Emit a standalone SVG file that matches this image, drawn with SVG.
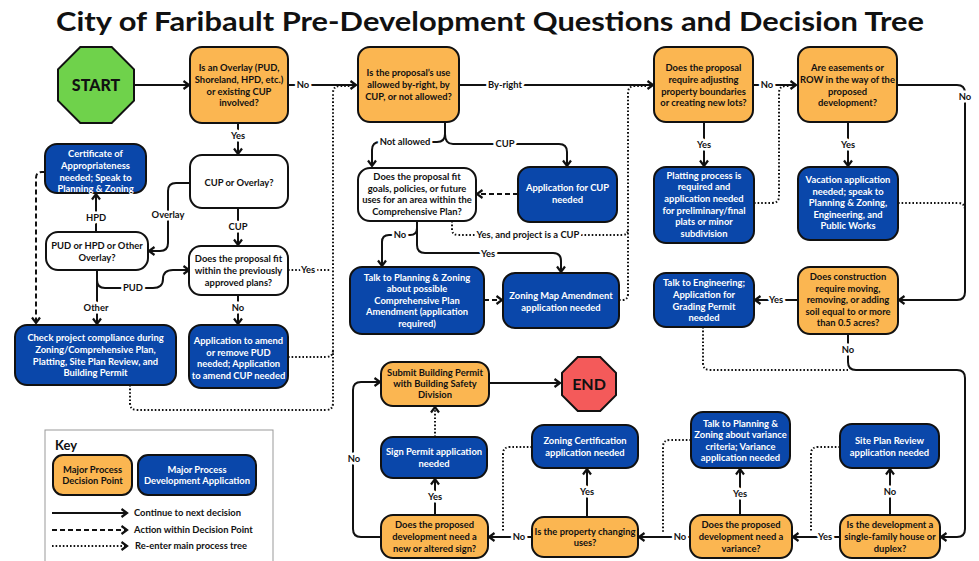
<svg xmlns="http://www.w3.org/2000/svg" width="979" height="561" viewBox="0 0 979 561">
<defs>
<marker id="a" markerWidth="10" markerHeight="10" refX="7" refY="5" orient="auto" markerUnits="userSpaceOnUse">
<path d="M1.5,1 L7,5 L1.5,9" fill="none" stroke="#111" stroke-width="2.2"/>
</marker>
<style>
text{font-family:Lato,"Liberation Sans",sans-serif;font-weight:700;font-size:9.4px;text-anchor:middle}
.o{fill:#FBB651;stroke:#111;stroke-width:2}
.b{fill:#0A47AA;stroke:#111;stroke-width:2}
.w{fill:#fff;stroke:#111;stroke-width:2}
.bt{fill:#fff}
.dk{fill:#111}
.c{fill:none;stroke:#111;stroke-width:2}
.d{stroke-dasharray:5 3}
.t{stroke-dasharray:1.6 2}
.l{fill:#111;paint-order:stroke;stroke:#fff;stroke-width:5px;stroke-linejoin:round}
</style>
</defs>
<rect width="979" height="561" fill="#fff"/>
<text x="490" y="31" style="font-size:27px" textLength="868" lengthAdjust="spacingAndGlyphs" class="dk">City of Faribault Pre-Development Questions and Decision Tree</text>

<g id="connectors">
<path class="c" d="M134,85 H189" marker-end="url(#a)"/>
<path class="c" d="M288,85 H356" marker-end="url(#a)"/>
<path class="c" d="M238,123 V154" marker-end="url(#a)"/>
<path class="c" d="M190,183 H176 Q168,183 168,191 V243 Q168,251 160,251 H149" marker-end="url(#a)"/>
<path class="c" d="M238,208 V245" marker-end="url(#a)"/>
<path class="c" d="M96,231 V194" marker-end="url(#a)"/>
<path class="c" d="M97,270 V280 Q97,288 105,288 H153 Q163,288 163,279 Q163,270 173,270 H189" marker-end="url(#a)"/>
<path class="c" d="M97,280 V324" marker-end="url(#a)"/>
<path class="c d" d="M45,172 H42 Q36,172 36,178 V323" marker-end="url(#a)"/>
<path class="c" d="M238,295 V324" marker-end="url(#a)"/>
<path class="c t" d="M288,270 H331"/>
<path class="c t" d="M288,357 H326 Q333,357 333,350"/>
<path class="c t" d="M130,385 V403 Q130,410 137,410 H326 Q333,410 333,403 V93 Q333,86 340,86 H350"/>
<path class="c" d="M459,85 H653" marker-end="url(#a)"/>
<path class="c" d="M445,122 V134 Q445,142 437,142 H380 Q372,142 372,150 V166" marker-end="url(#a)"/>
<path class="c" d="M445,134 Q445,144 453,144 H559 Q567,144 567,152 V166" marker-end="url(#a)"/>
<path class="c d" d="M518,194 H477" marker-end="url(#a)"/>
<path class="c" d="M417,221 V228 Q417,235 410,235 H389 Q382,235 382,242 V266" marker-end="url(#a)"/>
<path class="c" d="M417,228 V245 Q417,253 425,253 H553 Q561,253 561,261 V272" marker-end="url(#a)"/>
<path class="c t" d="M452,221 V229 Q452,235 458,235 H622 Q628,235 628,229"/>
<path class="c d" d="M484,300 H502" marker-end="url(#a)"/>
<path class="c t" d="M619,300 H622 Q628,300 628,294 V93 Q628,86 635,86 H646"/>
<path class="c" d="M753,85 H796" marker-end="url(#a)"/>
<path class="c" d="M704,122 V166" marker-end="url(#a)"/>
<path class="c" d="M848,122 V166" marker-end="url(#a)"/>
<path class="c t" d="M754,203 H772 Q779,203 779,196 V93 Q779,86 786,86 H790"/>
<path class="c" d="M897,85 H957 Q965,85 965,93 V292 Q965,300 957,300 H899" marker-end="url(#a)"/>
<path class="c t" d="M898,203 H958 Q965,203 965,210"/>
<path class="c" d="M798,300 H755" marker-end="url(#a)"/>
<path class="c" d="M848,334 V362 Q848,370 856,370 H957 Q965,370 965,378 V529 Q965,537 957,537 H941" marker-end="url(#a)"/>
<path class="c t" d="M703,327 V363 Q703,370 710,370 H848"/>
<path class="c" d="M840,537 H793" marker-end="url(#a)"/>
<path class="c" d="M890,515 V469" marker-end="url(#a)"/>
<path class="c t" d="M840,447 H818 Q811,447 811,454 V532"/>
<path class="c" d="M740,515 V469" marker-end="url(#a)"/>
<path class="c" d="M690,537 H639" marker-end="url(#a)"/>
<path class="c t" d="M691,440 H670 Q663,440 663,447 V532"/>
<path class="c" d="M587,517 V469" marker-end="url(#a)"/>
<path class="c" d="M532,537 H489" marker-end="url(#a)"/>
<path class="c t" d="M532,447 H510 Q503,447 503,454 V532"/>
<path class="c" d="M435,515 V479" marker-end="url(#a)"/>
<path class="c t" d="M435,437 V407" marker-end="url(#a)"/>
<path class="c" d="M381,537 H361 Q353,537 353,529 V390 Q353,382 361,382 H380" marker-end="url(#a)"/>
<path class="c" d="M489,383 H560" marker-end="url(#a)"/>
</g>

<g id="labels">
<text class="l" x="303" y="88">No</text>
<text class="l" x="238" y="139">Yes</text>
<text class="l" x="168" y="218">Overlay</text>
<text class="l" x="238" y="230">CUP</text>
<text class="l" x="96" y="221">HPD</text>
<text class="l" x="133" y="291">PUD</text>
<text class="l" x="96" y="311">Other</text>
<text class="l" x="308" y="273">Yes</text>
<text class="l" x="238" y="311">No</text>
<text class="l" x="505" y="88">By-right</text>
<text class="l" x="405" y="145">Not allowed</text>
<text class="l" x="505" y="147">CUP</text>
<text class="l" x="400" y="238">No</text>
<text class="l" x="488" y="257">Yes</text>
<text class="l" x="528" y="238">Yes, and project is a CUP</text>
<text class="l" x="767" y="88">No</text>
<text class="l" x="704" y="148">Yes</text>
<text class="l" x="848" y="148">Yes</text>
<text class="l" x="965" y="100">No</text>
<text class="l" x="776" y="303">Yes</text>
<text class="l" x="848" y="353">No</text>
<text class="l" x="890" y="495">No</text>
<text class="l" x="825" y="540">Yes</text>
<text class="l" x="740" y="497">Yes</text>
<text class="l" x="680" y="540">No</text>
<text class="l" x="587" y="495">Yes</text>
<text class="l" x="519" y="540">No</text>
<text class="l" x="435" y="500">Yes</text>
<text class="l" x="354" y="462">No</text>
</g>

<g id="start">
<polygon points="80.3,47 111.7,47 134,69.3 134,100.7 111.7,123 80.3,123 58,100.7 58,69.3" fill="#6FD24B" stroke="#111" stroke-width="2"/>
<text x="96" y="91" class="dk" style="font-size:16px;font-weight:900">START</text>
</g>
<g id="overlay">
<rect class="o" x="190" y="47" width="98" height="76" rx="12"/>
<text class="dk" x="239" y="71">Is an Overlay (PUD,</text>
<text class="dk" x="239" y="83">Shoreland, HPD, etc.)</text>
<text class="dk" x="239" y="95">or existing CUP</text>
<text class="dk" x="239" y="106">involved?</text>
</g>
<g id="cup-or-overlay">
<rect class="w" x="190" y="155" width="98" height="53" rx="12"/>
<text class="dk" x="239" y="186">CUP or Overlay?</text>
</g>
<g id="certificate">
<rect class="b" x="45" y="144" width="101" height="49" rx="12"/>
<text class="bt" x="95.5" y="157">Certificate of</text>
<text class="bt" x="95.5" y="169">Appropriateness</text>
<text class="bt" x="95.5" y="181">needed; Speak to</text>
<text class="bt" x="95.5" y="192">Planning &amp; Zoning</text>
</g>
<g id="pud-hpd">
<rect class="w" x="46" y="232" width="102" height="38" rx="12"/>
<text class="dk" x="97" y="249">PUD or HPD or Other</text>
<text class="dk" x="97" y="261">Overlay?</text>
</g>
<g id="fit-approved">
<rect class="w" x="189" y="246" width="99" height="49" rx="12"/>
<text class="dk" x="238.5" y="262">Does the proposal fit</text>
<text class="dk" x="238.5" y="274">within the previously</text>
<text class="dk" x="238.5" y="286">approved plans?</text>
</g>
<g id="check-compliance">
<rect class="b" x="15" y="325" width="161" height="60" rx="12"/>
<text class="bt" x="95.5" y="341">Check project compliance during</text>
<text class="bt" x="95.5" y="353">Zoning/Comprehensive Plan,</text>
<text class="bt" x="95.5" y="365">Platting, Site Plan Review, and</text>
<text class="bt" x="95.5" y="376">Building Permit</text>
</g>
<g id="amend-pud">
<rect class="b" x="189" y="325" width="99" height="63" rx="12"/>
<text class="bt" x="238.5" y="344">Application to amend</text>
<text class="bt" x="238.5" y="356">or remove PUD</text>
<text class="bt" x="238.5" y="367">needed; Application</text>
<text class="bt" x="238.5" y="379">to amend CUP needed</text>
</g>
<g id="use-allowed">
<rect class="o" x="358" y="47" width="101" height="75" rx="12"/>
<text class="dk" x="408.5" y="76">Is the proposal’s use</text>
<text class="dk" x="408.5" y="88">allowed by-right, by</text>
<text class="dk" x="408.5" y="100">CUP, or not allowed?</text>
</g>
<g id="fit-comp-plan">
<rect class="w" x="358" y="168" width="118" height="53" rx="12"/>
<text class="dk" x="417" y="180">Does the proposal fit</text>
<text class="dk" x="417" y="192">goals, policies, or future</text>
<text class="dk" x="417" y="203">uses for an area within the</text>
<text class="dk" x="417" y="215">Comprehensive Plan?</text>
</g>
<g id="cup-application">
<rect class="b" x="518" y="167" width="99" height="55" rx="12"/>
<text class="bt" x="567.5" y="191">Application for CUP</text>
<text class="bt" x="567.5" y="203">needed</text>
</g>
<g id="comp-plan-amendment">
<rect class="b" x="350" y="267" width="134" height="67" rx="12"/>
<text class="bt" x="417" y="281">Talk to Planning &amp; Zoning</text>
<text class="bt" x="417" y="292">about possible</text>
<text class="bt" x="417" y="304">Comprehensive Plan</text>
<text class="bt" x="417" y="315">Amendment (application</text>
<text class="bt" x="417" y="327">required)</text>
</g>
<g id="zoning-map">
<rect class="b" x="503" y="273" width="116" height="55" rx="12"/>
<text class="bt" x="561" y="299">Zoning Map Amendment</text>
<text class="bt" x="561" y="311">application needed</text>
</g>
<g id="adjust-boundaries">
<rect class="o" x="654" y="47" width="99" height="75" rx="12"/>
<text class="dk" x="703.5" y="71">Does the proposal</text>
<text class="dk" x="703.5" y="83">require adjusting</text>
<text class="dk" x="703.5" y="95">property boundaries</text>
<text class="dk" x="703.5" y="106">or creating new lots?</text>
</g>
<g id="easements">
<rect class="o" x="798" y="47" width="99" height="75" rx="12"/>
<text class="dk" x="847.5" y="71">Are easements or</text>
<text class="dk" x="847.5" y="83">ROW in the way of the</text>
<text class="dk" x="847.5" y="95">proposed</text>
<text class="dk" x="847.5" y="106">development?</text>
</g>
<g id="platting">
<rect class="b" x="654" y="167" width="100" height="76" rx="12"/>
<text class="bt" x="704" y="179">Platting process is</text>
<text class="bt" x="704" y="190">required and</text>
<text class="bt" x="704" y="202">application needed</text>
<text class="bt" x="704" y="214">for preliminary/final</text>
<text class="bt" x="704" y="225">plats or minor</text>
<text class="bt" x="704" y="237">subdivision</text>
</g>
<g id="vacation">
<rect class="b" x="798" y="167" width="100" height="73" rx="12"/>
<text class="bt" x="848" y="183">Vacation application</text>
<text class="bt" x="848" y="195">needed; speak to</text>
<text class="bt" x="848" y="206">Planning &amp; Zoning,</text>
<text class="bt" x="848" y="218">Engineering, and</text>
<text class="bt" x="848" y="229">Public Works</text>
</g>
<g id="soil">
<rect class="o" x="798" y="267" width="100" height="67" rx="12"/>
<text class="dk" x="848" y="280">Does construction</text>
<text class="dk" x="848" y="292">require moving,</text>
<text class="dk" x="848" y="303">removing, or adding</text>
<text class="dk" x="848" y="315">soil equal to or more</text>
<text class="dk" x="848" y="326">than 0.5 acres?</text>
</g>
<g id="grading">
<rect class="b" x="654" y="273" width="100" height="54" rx="12"/>
<text class="bt" x="704" y="286">Talk to Engineering;</text>
<text class="bt" x="704" y="298">Application for</text>
<text class="bt" x="704" y="310">Grading Permit</text>
<text class="bt" x="704" y="321">needed</text>
</g>
<g id="site-plan">
<rect class="b" x="840" y="424" width="99" height="44" rx="12"/>
<text class="bt" x="889.5" y="444">Site Plan Review</text>
<text class="bt" x="889.5" y="456">application needed</text>
</g>
<g id="single-family">
<rect class="o" x="840" y="515" width="100" height="43" rx="12"/>
<text class="dk" x="890" y="528">Is the development a</text>
<text class="dk" x="890" y="540">single-family house or</text>
<text class="dk" x="890" y="552">duplex?</text>
</g>
<g id="variance-talk">
<rect class="b" x="691" y="412" width="99" height="56" rx="12"/>
<text class="bt" x="740.5" y="427">Talk to Planning &amp;</text>
<text class="bt" x="740.5" y="438">Zoning about variance</text>
<text class="bt" x="740.5" y="450">criteria; Variance</text>
<text class="bt" x="740.5" y="461">application needed</text>
</g>
<g id="variance">
<rect class="o" x="690" y="515" width="102" height="43" rx="12"/>
<text class="dk" x="741" y="528">Does the proposed</text>
<text class="dk" x="741" y="540">development need a</text>
<text class="dk" x="741" y="552">variance?</text>
</g>
<g id="zoning-cert">
<rect class="b" x="532" y="425" width="106" height="43" rx="12"/>
<text class="bt" x="585" y="444">Zoning Certification</text>
<text class="bt" x="585" y="456">application needed</text>
</g>
<g id="changing-uses">
<rect class="o" x="532" y="517" width="106" height="40" rx="12"/>
<text class="dk" x="585" y="535">Is the property changing</text>
<text class="dk" x="585" y="546">uses?</text>
</g>
<g id="sign">
<rect class="o" x="381" y="515" width="107" height="43" rx="12"/>
<text class="dk" x="434.5" y="528">Does the proposed</text>
<text class="dk" x="434.5" y="540">development need a</text>
<text class="dk" x="434.5" y="552">new or altered sign?</text>
</g>
<g id="sign-permit">
<rect class="b" x="381" y="437" width="106" height="41" rx="12"/>
<text class="bt" x="434" y="455">Sign Permit application</text>
<text class="bt" x="434" y="467">needed</text>
</g>
<g id="submit">
<rect class="o" x="381" y="362" width="108" height="44" rx="12"/>
<text class="dk" x="435" y="376">Submit Building Permit</text>
<text class="dk" x="435" y="387">with Building Safety</text>
<text class="dk" x="435" y="398">Division</text>
</g>
<g id="end">
<polygon points="577.8,357 600.2,357 616,372.8 616,395.2 600.2,411 577.8,411 562,395.2 562,372.8" fill="#F45A5A" stroke="#111" stroke-width="2"/>
<text x="589" y="390" class="dk" style="font-size:16px;font-weight:700">END</text>
</g>

<g id="key">
<rect x="45" y="430" width="228" height="140" fill="#fff" stroke="#999" stroke-width="1"/>
<text x="55" y="450" class="dk" style="font-size:13px;text-anchor:start">Key</text>
<rect class="o" x="53" y="455" width="79" height="40" rx="10"/>
<text class="dk" x="92.5" y="473">Major Process</text>
<text class="dk" x="92.5" y="484">Decision Point</text>
<rect class="b" x="138" y="455" width="118" height="40" rx="10"/>
<text class="bt" x="197" y="473">Major Process</text>
<text class="bt" x="197" y="484">Development Application</text>
<path class="c" d="M52,513 H127" marker-end="url(#a)"/>
<path class="c d" d="M52,530 H127" marker-end="url(#a)"/>
<path class="c t" d="M52,546 H127" marker-end="url(#a)"/>
<text class="dk" x="134" y="516" style="text-anchor:start">Continue to next decision</text>
<text class="dk" x="134" y="533" style="text-anchor:start">Action within Decision Point</text>
<text class="dk" x="135" y="549" style="text-anchor:start">Re-enter main process tree</text>
</g>
</svg>
